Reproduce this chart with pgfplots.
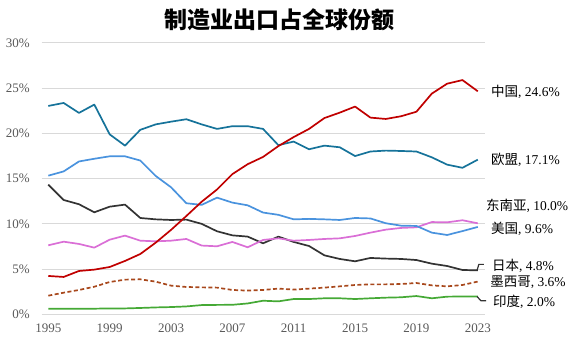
\documentclass[border=0pt]{standalone}
\usepackage{pgfplots}
\pgfplotsset{compat=1.18}
\usepackage{fontspec}
\setmainfont{Liberation Serif}
\newfontfamily\cjk{Noto Sans CJK SC}
\definecolor{cnred}{HTML}{C00000}
\definecolor{euteal}{HTML}{16739A}
\definecolor{usblue}{HTML}{4A93DE}
\definecolor{seapink}{HTML}{DA6FD6}
\definecolor{jpblack}{HTML}{333333}
\definecolor{mxbrown}{HTML}{A8481C}
\definecolor{ingreen}{HTML}{45A935}
\definecolor{tickgray}{HTML}{595959}
\definecolor{gridgray}{HTML}{D9D9D9}
\begin{document}
\begin{tikzpicture}[x=1pt,y=1pt]
\path[use as bounding box] (0,0) rectangle (578,358);
\begin{axis}[
  at={(41.7pt,43.7pt)}, anchor=south west,
  scale only axis, width=443.3pt, height=271.3pt,
  xmin=1994.57, xmax=2023.47, ymin=0, ymax=30,
  axis line style={draw=none},
  major tick length=0pt,
  ymajorgrids, grid style={gridgray, line width=1pt},
  xtick={1995,1999,...,2023}, ytick={0,5,...,30},
  /pgf/number format/assume math mode=true,
  /pgf/number format/1000 sep={},
  yticklabel={\pgfmathprintnumber{\tick}\%},
  ticklabel style={font=\fontsize{13}{14}\selectfont, text=tickgray},
  yticklabel style={xshift=-8.5pt},
  xticklabel style={yshift=-6.5pt},
  clip=false,
  every axis plot/.append style={line width=1.7pt, line join=round},
]
% Mexico
\addplot[mxbrown, dash pattern=on 4pt off 2.5pt] coordinates {(1995,2.06)(1996,2.39)(1997,2.69)(1998,3.05)(1999,3.57)(2000,3.83)(2001,3.87)(2002,3.61)(2003,3.17)(2004,3.02)(2005,2.98)(2006,2.95)(2007,2.69)(2008,2.62)(2009,2.69)(2010,2.84)(2011,2.73)(2012,2.84)(2013,2.95)(2014,3.09)(2015,3.24)(2016,3.31)(2017,3.31)(2018,3.35)(2019,3.46)(2020,3.2)(2021,3.09)(2022,3.24)(2023,3.62)};
% India
\addplot[ingreen] coordinates {(1995,0.62)(1996,0.62)(1997,0.62)(1998,0.62)(1999,0.65)(2000,0.65)(2001,0.7)(2002,0.76)(2003,0.8)(2004,0.87)(2005,1.02)(2006,1.04)(2007,1.05)(2008,1.2)(2009,1.5)(2010,1.43)(2011,1.69)(2012,1.69)(2013,1.77)(2014,1.77)(2015,1.69)(2016,1.77)(2017,1.84)(2018,1.88)(2019,2.02)(2020,1.77)(2021,1.95)(2022,1.97)(2023,1.97)};
% Japan
\addplot[jpblack] coordinates {(1995,14.34)(1996,12.64)(1997,12.17)(1998,11.28)(1999,11.9)(2000,12.13)(2001,10.65)(2002,10.5)(2003,10.43)(2004,10.47)(2005,10.0)(2006,9.18)(2007,8.73)(2008,8.59)(2009,7.85)(2010,8.59)(2011,8.0)(2012,7.55)(2013,6.52)(2014,6.12)(2015,5.86)(2016,6.23)(2017,6.16)(2018,6.12)(2019,6.0)(2020,5.6)(2021,5.34)(2022,4.9)(2023,4.86)};
% SE Asia
\addplot[seapink] coordinates {(1995,7.63)(1996,8.03)(1997,7.78)(1998,7.37)(1999,8.25)(2000,8.7)(2001,8.14)(2002,8.07)(2003,8.14)(2004,8.33)(2005,7.6)(2006,7.52)(2007,8.0)(2008,7.41)(2009,8.22)(2010,8.4)(2011,8.14)(2012,8.22)(2013,8.33)(2014,8.4)(2015,8.66)(2016,9.03)(2017,9.36)(2018,9.55)(2019,9.62)(2020,10.2)(2021,10.17)(2022,10.4)(2023,10.06)};
% US
\addplot[usblue] coordinates {(1995,15.33)(1996,15.8)(1997,16.9)(1998,17.2)(1999,17.47)(2000,17.47)(2001,17.0)(2002,15.3)(2003,14.05)(2004,12.28)(2005,12.1)(2006,12.9)(2007,12.35)(2008,12.05)(2009,11.25)(2010,11.0)(2011,10.5)(2012,10.55)(2013,10.5)(2014,10.43)(2015,10.65)(2016,10.6)(2017,10.07)(2018,9.8)(2019,9.77)(2020,9.03)(2021,8.77)(2022,9.2)(2023,9.66)};
% EU
\addplot[euteal] coordinates {(1995,23.04)(1996,23.37)(1997,22.27)(1998,23.19)(1999,19.9)(2000,18.65)(2001,20.4)(2002,21.0)(2003,21.3)(2004,21.57)(2005,21.0)(2006,20.5)(2007,20.8)(2008,20.8)(2009,20.5)(2010,18.7)(2011,19.1)(2012,18.25)(2013,18.65)(2014,18.47)(2015,17.5)(2016,18.0)(2017,18.1)(2018,18.06)(2019,18.0)(2020,17.36)(2021,16.55)(2022,16.2)(2023,17.1)};
% China
\addplot[cnred] coordinates {(1995,4.24)(1996,4.13)(1997,4.79)(1998,4.94)(1999,5.23)(2000,5.9)(2001,6.67)(2002,7.92)(2003,9.33)(2004,10.87)(2005,12.45)(2006,13.8)(2007,15.5)(2008,16.6)(2009,17.4)(2010,18.6)(2011,19.6)(2012,20.5)(2013,21.7)(2014,22.3)(2015,22.97)(2016,21.75)(2017,21.6)(2018,21.9)(2019,22.4)(2020,24.4)(2021,25.5)(2022,25.9)(2023,24.66)};
% connectors
\draw[jpblack, line width=1.2pt] (axis cs:2022.95,4.86) -- (axis cs:2023.07,5.52) -- (axis cs:2023.4,5.52);
\draw[jpblack, line width=1.2pt] (axis cs:2022.95,1.97) -- (axis cs:2023.2,1.50) -- (axis cs:2023.55,1.50);
% labels
\tikzset{lab/.style={anchor=west, inner sep=0pt, text=black, font=\fontsize{13.5}{14}\selectfont}}
\node[lab] at (axis cs:2023.86,24.56) {{\cjk 中国}, 24.6\%};
\node[lab] at (axis cs:2023.86,17.07) {{\cjk 欧盟}, 17.1\%};
\node[lab] at (axis cs:2023.53,11.98) {{\cjk 东南亚}, 10.0\%};
\node[lab] at (axis cs:2023.86,9.44) {{\cjk 美国}, 9.6\%};
\node[lab] at (axis cs:2023.92,5.34) {{\cjk 日本}, 4.8\%};
\node[lab] at (axis cs:2023.80,3.5) {{\cjk 墨西哥}, 3.6\%};
\node[lab] at (axis cs:2023.99,1.33) {{\cjk 印度}, 2.0\%};
\node[inner sep=0pt, font=\fontsize{23}{24}\selectfont] at (axis cs:2010.1,32.55) {\cjk\bfseries 制造业出口占全球份额};
\end{axis}
\end{tikzpicture}
\end{document}
